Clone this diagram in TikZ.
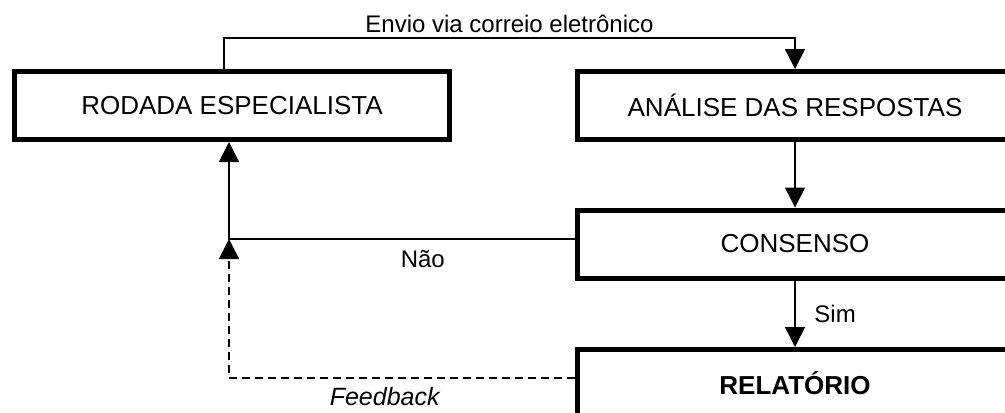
\documentclass[tikz,border=0pt]{standalone}
\usepackage{fontspec}
\setmainfont{Liberation Sans}
\usetikzlibrary{arrows.meta,calc}

\begin{document}
\begin{tikzpicture}[x=0.5pt,y=-0.5pt]
        \path[use as bounding box, clip] (0,0) rectangle (1005,412);
        \begin{scope}[every node/.style={draw, line width=2.5pt, minimum width=217.5pt, minimum height=34pt, inner sep=0, font=\fontsize{13}{15}\selectfont}]
                \node (RE) at (232,105.5) {RODADA ESPECIALISTA};
                \node (AR) at (795,105.5) {ANÁLISE DAS RESPOSTAS};
                \node (C) at (795,244) {CONSENSO};
                \node (R) at (795,383.5) {\textbf{RELATÓRIO}};
        \end{scope}
        \coordinate (N) at (229,239);
        \coordinate (F) at (229,378);
        \begin{scope}[every node/.style={font=\fontsize{12}{14}\selectfont}, every path/.style={line width=0.75pt, -{Triangle[width=10pt,length=10pt]}}]
                \draw ($(RE.north)+(-8,0)$) -- ++(0,-31) -| node[pos=0.25, above=-1pt] {Envio via correio eletrônico} (AR.north);
                \draw (AR) -- (C);
                \draw (C) -- node[right=6pt] {Sim} (R);
                \draw (C.west |- N) -- node[pos=0.44, below=2pt] {Não} (N) -- (N |- RE.south);
                \draw[dashed, dash pattern=on 4pt off 2.5pt] (R.west |- F) -- node[pos=0.55, below=1pt, font=\fontsize{12.5}{14}\selectfont\itshape] {Feedback} (F) -- (N);
        \end{scope}
\end{tikzpicture}
\end{document}
